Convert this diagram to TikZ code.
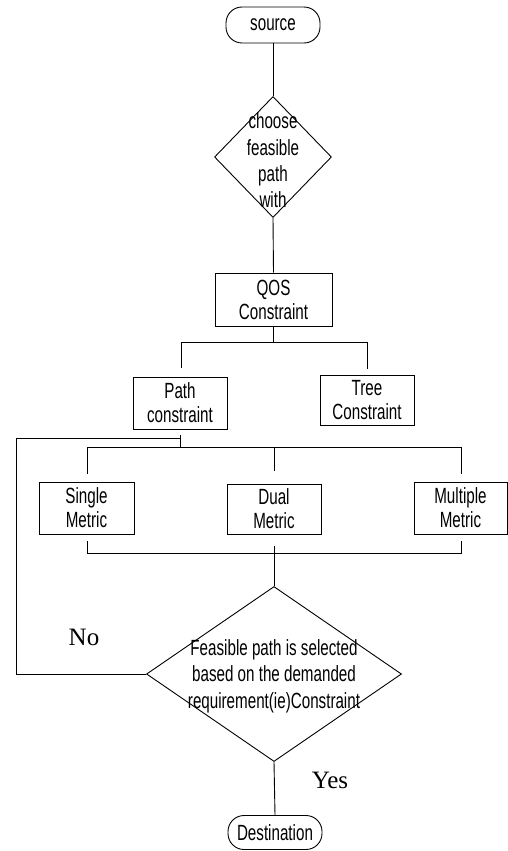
\documentclass[tikz,border=0pt]{standalone}
\usepackage{fontspec}
\setmainfont{Liberation Serif}
\newfontfamily\nar[FakeStretch=0.69]{Liberation Sans}
\usetikzlibrary{shapes.geometric}
\begin{document}
\begin{tikzpicture}[x=1pt,y=-1pt,line width=0.9pt,
  box/.style={draw,rectangle,inner sep=0pt,align=center,font=\nar\fontsize{22}{24}\selectfont},
  term/.style={draw,rectangle,rounded corners=16pt,inner sep=0pt,align=center,font=\nar\fontsize{22}{24}\selectfont},
  diam/.style={draw,diamond,inner sep=0pt},
  dtxt/.style={inner sep=0pt,align=center,font=\nar\fontsize{22}{26.4}\selectfont},
  lbl/.style={inner sep=0pt,font=\fontsize{25}{30}\selectfont}]
\useasboundingbox (0,0) rectangle (508,851);
% nodes
\node[term,minimum width=94pt,minimum height=36pt] (src) at (273,25) {source};
\node[diam,minimum width=117pt,minimum height=121pt] (d1) at (273,157) {};
\node[dtxt] (d1t) at (273,160.5) {choose\\feasible\\path\\with};
\node[box,minimum width=117pt,minimum height=53pt] (qos) at (273.5,299.5) {QOS\\Constraint};
\node[box,minimum width=94pt,minimum height=52pt] (path) at (180,403) {Path\\constraint};
\node[box,minimum width=94pt,minimum height=50pt] (tree) at (367,400) {Tree\\Constraint};
\node[box,minimum width=95pt,minimum height=52pt] (single) at (86.5,508) {Single\\Metric};
\node[box,minimum width=94pt,minimum height=50pt] (dual) at (274,509) {Dual\\Metric};
\node[box,minimum width=93pt,minimum height=52pt] (multi) at (460.5,508) {Multiple\\Metric};
\node[diam,minimum width=255pt,minimum height=175pt] (d2) at (274,674) {};
\node[dtxt] (d2t) at (274,676) {Feasible path is selected\\based on the demanded\\requirement(ie)Constraint};
\node[term,minimum width=94pt,minimum height=34pt] (dest) at (275,832.5) {Destination};
\node[lbl] (no) at (84,637) {No};
\node[lbl] (yes) at (330,780) {Yes};
% coordinates
\coordinate (qb) at (273.5,342);
\coordinate (ql) at (181,342);
\coordinate (qr) at (367,342);
\coordinate (pl) at (181,368);
\coordinate (tr) at (367,369);
\coordinate (pb) at (180,447);
\coordinate (ml) at (87,447);
\coordinate (mr) at (461,447);
\coordinate (mc) at (274,447);
\coordinate (sl) at (87,474);
\coordinate (dc) at (274,471);
\coordinate (sr) at (461,474);
\coordinate (bl1) at (87,541);
\coordinate (bl2) at (87,553);
\coordinate (br1) at (461,541);
\coordinate (br2) at (461,553);
\coordinate (bc1) at (274,546);
\coordinate (fb1) at (16,674);
\coordinate (fb2) at (16,438);
\coordinate (fb3) at (180,438);
\coordinate (pt) at (180,435);
% connectors
\draw (src.south) -- (d1.north);
\draw (d1.south) -- (qos.north);
\draw (qos.south) -- (qb);
\draw (pl) -- (ql) -- (qr) -- (tr);
\draw (pt) -- (pb);
\draw (sl) -- (ml) -- (mr) -- (sr);
\draw (mc) -- (dc);
\draw (bl1) -- (bl2) -- (br2) -- (br1);
\draw (bc1) -- (d2.north);
\draw (d2.south) -- (dest.north);
\draw (d2.west) -- (fb1) -- (fb2) -- (fb3);
\end{tikzpicture}
\end{document}
